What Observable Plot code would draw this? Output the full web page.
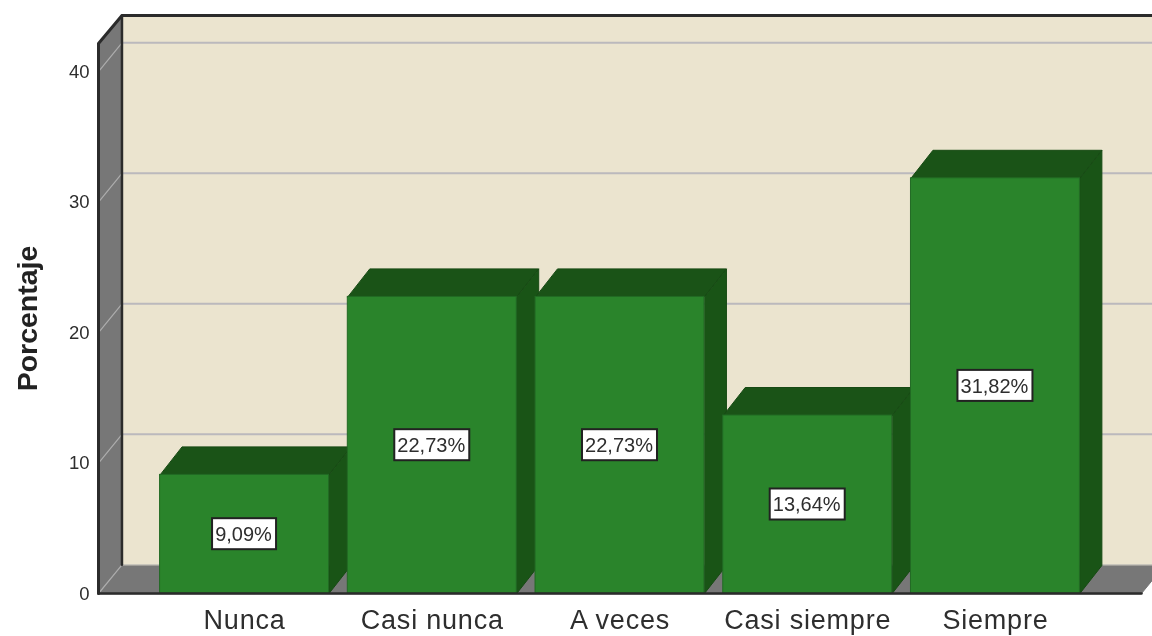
<!DOCTYPE html>
<html>
<head>
<meta charset="utf-8">
<script src="https://cdn.jsdelivr.net/npm/d3@7"></script>
<script src="https://cdn.jsdelivr.net/npm/@observablehq/plot@0.6"></script>
<style>
  html, body { margin: 0; padding: 0; background: #fff; }
  svg { display: block; filter: blur(0.6px); }
  svg g[aria-label="x-axis tick label"] { letter-spacing: 0.8px; }
</style>
</head>
<body>
<div id="chart"></div>
<script>
const categories = ["Nunca", "Casi nunca", "A veces", "Casi siempre", "Siempre"];
const percentages = [9.09, 22.73, 22.73, 13.64, 31.82];
const valueLabels = ["9,09%", "22,73%", "22,73%", "13,64%", "31,82%"];
const yTicks = [0, 10, 20, 30, 40];
const axisTitle = "Porcentaje";

// Scale domains: x is the category position, y the percentage.
const xMin = -0.778, xMax = 4.778, yMax = 42.15, yTop = 44.3;
const barHalf = 0.45;
const depthX = 0.117, depthY = 2.146;
const wallX = 0.125, wallY = 2.2;
const pxPerX = 187.75, pxPerY = 13.05;

const colors = {
  wall: "#ebe4cf", shade: "#777777", edge: "#2b2b2b", grid: "#bbb9bd", wallGrid: "#adadad", seam: "#c9c6bc",
  front: "#2a842b", top: "#1a5317", side: "#195416", frontEdge: "#226a24", topEdge: "#174a14", text: "#2e2e2e"
};

const poly = (points, options) => Plot.line(points, {x: "0", y: "1", strokeLinejoin: "miter", curve: "linear-closed", ...options});
const face = (points, fill, stroke = fill, strokeWidth = 1) => poly(points, {fill, stroke, strokeWidth});

const xEnd = xMax + wallX;
const wallLeft = xMin + wallX;

const barMarks = percentages.flatMap((v, i) => {
  const l = i - barHalf, r = i + barHalf;
  return [
    face([[l, v], [l + depthX, v + depthY], [r + depthX, v + depthY], [r, v]], colors.top, colors.topEdge),
    face([[r, 0], [r + depthX, depthY], [r + depthX, v + depthY], [r, v]], colors.side, colors.topEdge),
    Plot.rect([v], {x1: l, x2: r, y1: 0, y2: v, fill: colors.front, stroke: colors.frontEdge, strokeWidth: 1})
  ];
});

const boxes = percentages.map((v, i) => {
  const halfW = (9 + 11 * valueLabels[i].length) / 2 / pxPerX;
  const halfH = 15.5 / pxPerY;
  return {x1: i - halfW, x2: i + halfW, y1: v / 2 - halfH, y2: v / 2 + halfH};
});

const chart = Plot.plot({
  width: 1152,
  height: 636,
  marginLeft: 98,
  marginRight: 11,
  marginTop: 43,
  marginBottom: 43,
  style: {fontFamily: "'Liberation Sans', Arial, sans-serif", background: "#fff", color: colors.text},
  x: {domain: [xMin, xMax], axis: null},
  y: {domain: [0, yMax], axis: null},
  marks: [
    // back wall
    face([[wallLeft, wallY], [wallLeft, yTop], [xEnd, yTop], [xEnd, wallY]], colors.wall, colors.wall),
    // left wall and floor
    face([[xMin, 0], [wallLeft, wallY], [wallLeft, yTop], [xMin, yMax]], colors.shade, colors.shade),
    face([[xMin, 0], [wallLeft, wallY], [xEnd, wallY], [xMax, 0]], colors.shade, colors.shade),
    // gridlines on back wall and left wall
    Plot.ruleY(yTicks.slice(1), {y: d => d + wallY, x1: wallLeft, x2: xEnd, stroke: colors.grid, strokeWidth: 2}),
    ...yTicks.map(t => Plot.line([[xMin, t], [wallLeft, t + wallY]], {x: "0", y: "1", stroke: colors.wallGrid, strokeWidth: 1.2})),
    // frame edges
    Plot.line([[wallLeft, wallY], [xEnd, wallY]], {x: "0", y: "1", stroke: colors.seam, strokeWidth: 1.5}),
    Plot.line([[xMin, 0], [xMin, yMax], [wallLeft, yTop], [xEnd, yTop]], {x: "0", y: "1", stroke: colors.edge, strokeWidth: 3}),
    Plot.line([[wallLeft, yTop], [wallLeft, wallY]], {x: "0", y: "1", stroke: colors.edge, strokeWidth: 2.5}),
    ...barMarks,
    Plot.line([[xMin, 0], [xMax, 0]], {x: "0", y: "1", stroke: colors.edge, strokeWidth: 2.5}),
    // value labels
    Plot.rect(boxes, {x1: "x1", x2: "x2", y1: "y1", y2: "y2", fill: "#fff", stroke: "#222", strokeWidth: 2}),
    Plot.text(valueLabels, {x: (d, i) => i, y: (d, i) => percentages[i] / 2, dx: -1, dy: 0.5, text: d => d, fontSize: 20, fill: colors.text}),
    // axes
    Plot.axisY({ticks: yTicks, tickSize: 0, tickPadding: 9, fontSize: 18.5, dy: 0.5, tickFormat: d => d, color: colors.text, label: null}),
    Plot.axisX({ticks: categories.map((d, i) => i), tickFormat: i => categories[i], tickSize: 0, tickPadding: 16, fontSize: 27, color: colors.text, label: null}),
    Plot.text([axisTitle], {frameAnchor: "left", textAnchor: "middle", dx: -71, rotate: -90, text: d => d, fontSize: 28.5, fontWeight: "bold", fill: "#222"})
  ]
});
document.getElementById("chart").append(chart);
</script>
</body>
</html>
